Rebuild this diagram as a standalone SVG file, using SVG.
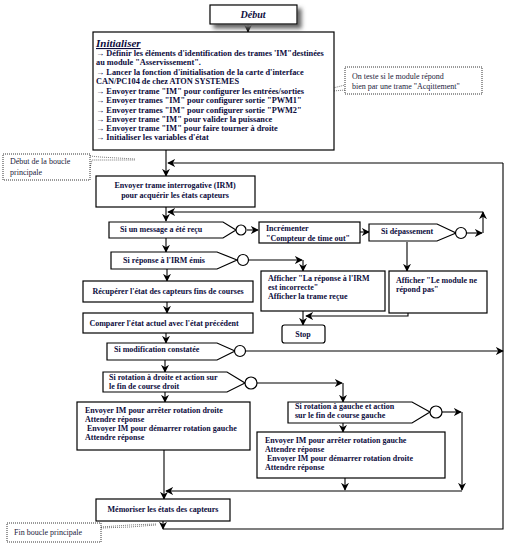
<svg xmlns="http://www.w3.org/2000/svg" width="517" height="554" viewBox="0 0 517 554">
<defs>
<marker id="ah" viewBox="0 0 10 10" refX="9" refY="5" markerWidth="8" markerHeight="8" markerUnits="userSpaceOnUse" orient="auto">
<path d="M0,0 L10,5 L0,10 L3,5 Z" fill="#000"/>
</marker>
<filter id="sh" x="-20%" y="-40%" width="150%" height="200%">
<feGaussianBlur in="SourceAlpha" stdDeviation="2"/>
<feOffset dx="4" dy="4" result="b"/>
<feFlood flood-color="#666"/>
<feComposite in2="b" operator="in"/>
<feMerge><feMergeNode/><feMergeNode in="SourceGraphic"/></feMerge>
</filter>
</defs>
<style>
.b{fill:#fff;stroke:#000;stroke-width:1.2}
.t{font-family:"Liberation Serif","Times New Roman",serif;font-weight:bold;font-size:8px;fill:#0c0c3c}
.ti{font-size:8.3px}
.n{font-family:"Liberation Serif","Times New Roman",serif;font-size:8px;fill:#1a1a3a}
.dot{fill:#fff;stroke:#000;stroke-width:0.8;stroke-dasharray:1 1}
.dl{fill:none;stroke:#555;stroke-width:0.8;stroke-dasharray:1 1}
.c{fill:none;stroke:#000;stroke-width:1.1}
.a{fill:none;stroke:#000;stroke-width:1.1;marker-end:url(#ah)}
.m{text-anchor:middle}
</style>
<rect width="517" height="554" fill="#fff"/>

<g id="connectors">
<path class="a" d="M248,24 L248,32"/>
<path class="a" d="M166,150 L166,176"/>
<path class="c" d="M163,529 L503,529 L503,163"/>
<path class="a" d="M503,163 L168,163"/>
<path class="a" d="M166,207 L166,221"/>
<path class="a" d="M467,233 L482,233"/>
<path class="a" d="M483,233 L483,212"/>
<path class="a" d="M483,212 L168,212"/>
<path class="a" d="M247,230 L258,230"/>
<path class="a" d="M166,238 L166,252"/>
<path class="a" d="M360,232 L369,232"/>
<path class="a" d="M407,242 L407,271"/>
<path class="a" d="M249,260 L302,260"/>
<path class="a" d="M303,260 L303,271"/>
<path class="a" d="M167,269 L167,281"/>
<path class="a" d="M167,302 L167,313"/>
<path class="a" d="M166,333 L166,343"/>
<path class="a" d="M246,351 L503,351"/>
<path class="a" d="M165,360 L165,372"/>
<path class="a" d="M257,383 L342,383"/>
<path class="a" d="M343,383 L343,402"/>
<path class="a" d="M165,392 L165,402"/>
<path class="a" d="M442,412 L461,412"/>
<path class="a" d="M462,412 L462,490"/>
<path class="a" d="M343,423 L343,432"/>
<path class="a" d="M345,478 L345,490"/>
<path class="c" d="M164,450 L164,491"/>
<path class="a" d="M462,491 L166,491"/>
<path class="a" d="M164,491 L164,499"/>
<path class="a" d="M163,521 L163,529"/>
<path class="a" d="M303,311 L303,325"/>
<path class="a" d="M408,313 L408,316 L306,316"/>
<path class="dl" d="M318,92 L333,88 L345,85 M318,92 L333,91 L345,90"/>
<path class="dl" d="M90,156 L100,157 L135,159 M90,168 L92,160 L135,160"/>
<path class="dl" d="M101,527 L130,525 L156,524 M101,528 L130,527 L156,525"/>
</g>

<g id="debut">
<rect x="210" y="5" width="87" height="19" class="b" filter="url(#sh)"/>
<text x="253" y="18" class="t m" style="font-size:10px;font-style:italic">Début</text>
</g>

<g id="initialiser">
<rect x="93" y="32" width="241" height="118" class="b"/>
<text x="96" y="47" class="t" style="font-size:11px;font-style:italic;text-decoration:underline">Initialiser</text>
<text class="t ti">
<tspan x="96" y="56">→ Définir les éléments d'identification des trames 'IM"destinées</tspan>
<tspan x="96" y="65">au module "Asservissement".</tspan>
<tspan x="96" y="75">→ Lancer la fonction d'initialisation de la carte d'interface</tspan>
<tspan x="96" y="84">CAN/PC104 de chez ATON SYSTEMES</tspan>
<tspan x="96" y="94">→ Envoyer trame "IM" pour configurer les entrées/sorties</tspan>
<tspan x="96" y="103">→ Envoyer trames "IM"  pour configurer sortie "PWM1"</tspan>
<tspan x="96" y="113">→ Envoyer trames "IM" pour configurer sortie "PWM2"</tspan>
<tspan x="96" y="122">→ Envoyer trame "IM" pour valider la puissance</tspan>
<tspan x="96" y="131">→ Envoyer trame "IM" pour faire tourner à droite</tspan>
<tspan x="96" y="140">→ Initialiser les variables d'état</tspan>
</text>
</g>

<g id="note-acquittement">
<rect x="345" y="67" width="137" height="27" class="dot"/>
<text class="n"><tspan x="352" y="79">On teste si le module répond</tspan><tspan x="352" y="89">bien par une trame "Acqittement"</tspan></text>
</g>

<g id="note-debut-boucle">
<rect x="3" y="154" width="87" height="26" class="dot"/>
<text class="n"><tspan x="10" y="164">Début de la boucle</tspan><tspan x="10" y="175">principale</tspan></text>
</g>

<g id="envoyer-irm">
<rect x="96" y="176" width="159" height="31" class="b"/>
<text class="t m"><tspan x="175" y="188">Envoyer trame interrogative (IRM)</tspan><tspan x="175" y="198">pour acquérir les états capteurs</tspan></text>
</g>

<g id="si-message">
<path d="M109,222 L223,222 L236,230 L223,238 L109,238 Z" class="b"/>
<circle cx="241" cy="230" r="5" class="b"/>
<text x="120" y="232" class="t">Si un message a été reçu</text>
</g>

<g id="incrementer">
<rect x="259" y="222" width="101" height="21" class="b"/>
<text class="t"><tspan x="266" y="231">Incrémenter</tspan><tspan x="266" y="241">"Compteur de time out"</tspan></text>
</g>

<g id="si-depassement">
<path d="M369,224 L437,224 L456,233 L437,241 L369,241 Z" class="b"/>
<circle cx="461" cy="233" r="5.5" class="b"/>
<text x="381" y="234" class="t">Si dépassement</text>
</g>

<g id="si-reponse">
<path d="M111,252 L217,252 L237,260 L217,269 L111,269 Z" class="b"/>
<circle cx="243" cy="260" r="5.5" class="b"/>
<text x="164" y="263" class="t m">Si réponse à  l'IRM émis</text>
</g>

<g id="afficher-irm">
<rect x="261" y="271" width="124" height="40" class="b"/>
<text class="t"><tspan x="268" y="281">Afficher "La réponse à l'IRM</tspan><tspan x="268" y="290">est incorrecte"</tspan><tspan x="268" y="299">Afficher la trame reçue</tspan></text>
</g>

<g id="afficher-module">
<rect x="389" y="271" width="98" height="42" class="b"/>
<text class="t"><tspan x="396" y="283">Afficher "Le module ne</tspan><tspan x="396" y="292">répond pas"</tspan></text>
</g>

<g id="stop">
<rect x="282" y="325" width="43" height="18" rx="2.5" class="b"/>
<text x="303" y="337" class="t m">Stop</text>
</g>

<g id="recuperer">
<rect x="83" y="281" width="170" height="21" class="b"/>
<text x="168" y="294" class="t m">Récupérer l'état des capteurs fins de courses</text>
</g>

<g id="comparer">
<rect x="83" y="313" width="170" height="20" class="b"/>
<text x="164" y="326" class="t m">Comparer l'état actuel avec l'état précédent</text>
</g>

<g id="si-modification">
<path d="M107,343 L217,343 L235,351 L217,360 L107,360 Z" class="b"/>
<circle cx="240" cy="351" r="5.5" class="b"/>
<text x="114" y="352" class="t">Si modification constatée</text>
</g>

<g id="si-rotation-droite">
<path d="M103,372 L227,372 L245,383 L227,392 L103,392 Z" class="b"/>
<circle cx="251" cy="383" r="6" class="b"/>
<text class="t"><tspan x="109" y="380">Si rotation à droite et action sur</tspan><tspan x="109" y="389">le fin de course droit</tspan></text>
</g>

<g id="arreter-droite">
<rect x="77" y="402" width="173" height="48" class="b"/>
<text class="t"><tspan x="85" y="413">Envoyer IM pour arrêter rotation  droite</tspan><tspan x="85" y="422">Attendre réponse</tspan><tspan x="85" y="431"> Envoyer IM pour démarrer rotation gauche</tspan><tspan x="85" y="440">Attendre réponse</tspan></text>
</g>

<g id="si-rotation-gauche">
<path d="M288,402 L412,402 L430,412 L412,423 L288,423 Z" class="b"/>
<circle cx="436" cy="412" r="6" class="b"/>
<text class="t"><tspan x="295" y="409">Si rotation à gauche et action</tspan><tspan x="295" y="418">sur le fin de course gauche</tspan></text>
</g>

<g id="arreter-gauche">
<rect x="257" y="432" width="188" height="46" class="b"/>
<text class="t"><tspan x="265" y="443">Envoyer IM pour arrêter rotation  gauche</tspan><tspan x="265" y="452">Attendre réponse</tspan><tspan x="265" y="461"> Envoyer IM pour démarrer rotation droite</tspan><tspan x="265" y="470">Attendre réponse</tspan></text>
</g>

<g id="memoriser">
<rect x="96" y="499" width="134" height="22" class="b"/>
<text x="163" y="512" class="t m">Mémoriser les états des capteurs</text>
</g>

<g id="note-fin-boucle">
<rect x="7" y="523" width="94" height="19" class="dot"/>
<text x="14" y="535" class="n">Fin boucle principale</text>
</g>
</svg>
